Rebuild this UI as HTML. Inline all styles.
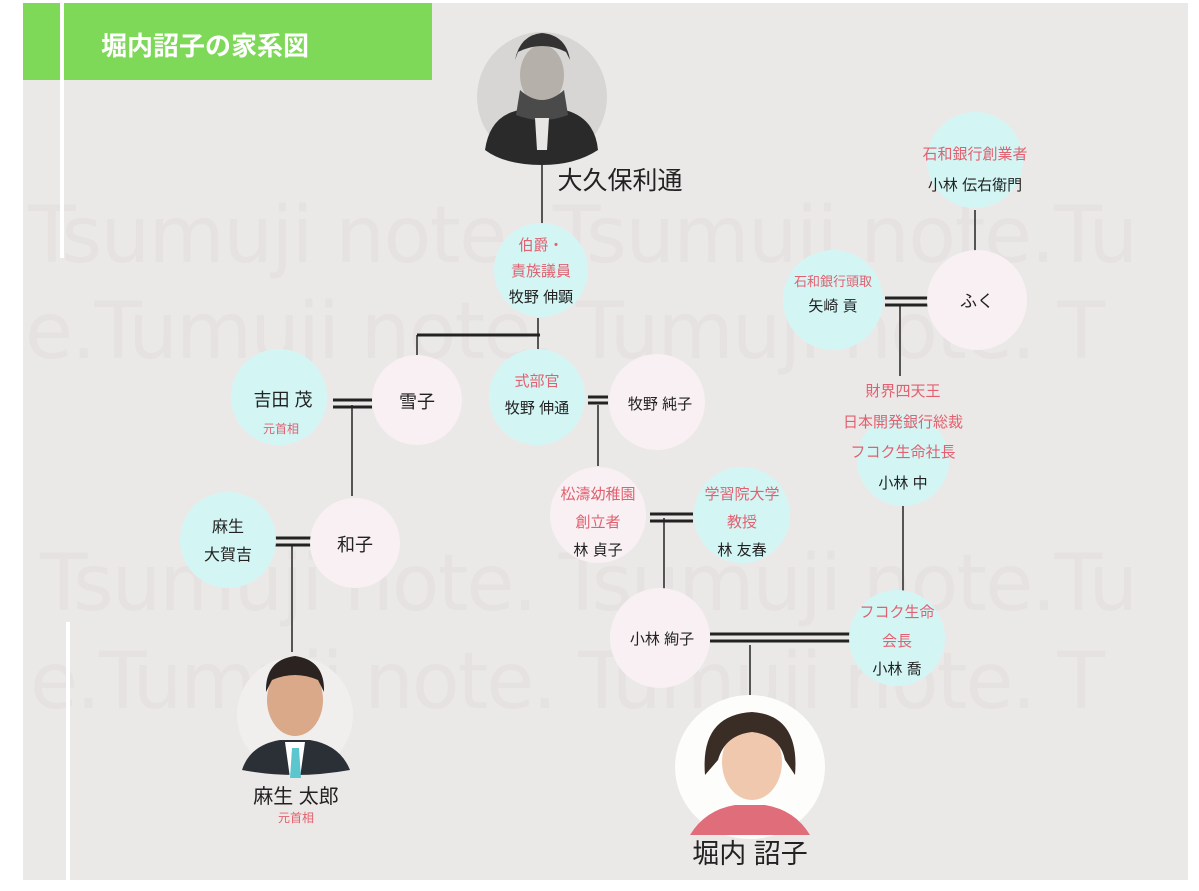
<!DOCTYPE html>
<html><head><meta charset="utf-8"><style>
html,body{margin:0;padding:0;background:#fff;}
svg{display:block;font-family:"Liberation Sans","Noto Sans CJK JP",sans-serif;}
</style></head><body>
<svg width="1199" height="891" viewBox="0 0 1199 891" xmlns="http://www.w3.org/2000/svg">
<rect x="0" y="0" width="1199" height="891" fill="#fff"/>
<rect x="23" y="3" width="1165" height="877" fill="#ebe9e7"/>
<!-- watermark -->
<g fill="#e5e2e1" font-size="78" font-family="'DejaVu Sans',sans-serif">
<text x="28" y="262" textLength="1110">Tsumuji note. Tsumuji note.Tu</text>
<text x="25" y="358" textLength="1080">e.Tumuji note. Tumuji note. T</text>
<text x="40" y="610" textLength="1098">Tsumuji note. Tsumuji note.Tu</text>
<text x="30" y="708" textLength="1075">e.Tumuji note. Tumuji note. T</text>
</g>
<!-- header -->
<rect x="23" y="3" width="409" height="77" fill="#7dd957"/>
<rect x="60" y="3" width="4" height="255" fill="#fff"/>
<rect x="66" y="622" width="4" height="258" fill="#fff"/>
<text x="101" y="55" font-size="26" font-weight="bold" fill="#fff">堀内詔子の家系図</text>

<!-- lines -->
<g stroke="#555" stroke-width="2" fill="none">
<line x1="542" y1="165" x2="542" y2="225"/>
<line x1="538" y1="318" x2="538" y2="352"/>
<line x1="417" y1="335" x2="417" y2="356"/>
<line x1="352" y1="405" x2="352" y2="496"/>
<line x1="598" y1="405" x2="598" y2="466"/>
<line x1="664" y1="518" x2="664" y2="590"/>
<line x1="750" y1="645" x2="750" y2="696"/>
<line x1="975" y1="210" x2="975" y2="252"/>
<line x1="900" y1="305" x2="900" y2="376"/>
<line x1="903" y1="498" x2="903" y2="592"/>
<line x1="292" y1="545" x2="292" y2="652"/>
</g>
<g stroke="#222" fill="none">
<line x1="417" y1="335" x2="540" y2="335" stroke-width="3"/>
<g stroke-width="3">
<line x1="333" y1="400" x2="372" y2="400"/><line x1="333" y1="407" x2="372" y2="407"/>
<line x1="588" y1="397" x2="608" y2="397"/><line x1="588" y1="403" x2="608" y2="403"/>
<line x1="650" y1="514" x2="693" y2="514"/><line x1="650" y1="521" x2="693" y2="521"/>
<line x1="710" y1="634" x2="852" y2="634"/><line x1="710" y1="641" x2="852" y2="641"/>
<line x1="885" y1="298" x2="930" y2="298"/><line x1="885" y1="305" x2="930" y2="305"/>
<line x1="273" y1="538" x2="312" y2="538"/><line x1="273" y1="545" x2="312" y2="545"/>
</g>
</g>

<!-- circles -->
<g fill="#d3f6f5">
<circle cx="541" cy="270" r="47"/>
<circle cx="279" cy="397" r="48"/>
<circle cx="537" cy="397" r="48"/>
<circle cx="742" cy="515" r="48"/>
<circle cx="897" cy="638" r="48"/>
<circle cx="975" cy="160" r="48"/>
<circle cx="833" cy="300" r="50"/>
<circle cx="903" cy="460" r="46"/>
<circle cx="228" cy="540" r="48"/>
</g>
<g fill="#f8f0f3">
<circle cx="417" cy="400" r="45"/>
<circle cx="657" cy="402" r="48"/>
<circle cx="598" cy="515" r="48"/>
<circle cx="660" cy="638" r="50"/>
<circle cx="977" cy="300" r="50"/>
<circle cx="355" cy="543" r="45"/>
</g>

<!-- Okubo photo -->
<circle cx="542" cy="97" r="65" fill="#d8d6d4"/>
<path d="M485 150 Q490 115 520 110 L565 110 Q595 118 598 150 Q575 165 542 165 Q505 165 485 150Z" fill="#2a2a2a"/>
<ellipse cx="542" cy="75" rx="22" ry="30" fill="#b5b0aa"/>
<path d="M515 60 Q520 35 542 33 Q566 35 570 60 L566 52 Q542 40 518 52Z" fill="#333"/>
<path d="M520 90 Q542 110 564 90 L568 115 Q542 125 516 115Z" fill="#4a4a4a"/>
<path d="M535 118 L549 118 L547 150 L537 150Z" fill="#e8e6e4"/>

<!-- Aso photo -->
<circle cx="295" cy="715" r="58" fill="#f1efee"/>
<path d="M242 770 Q250 745 280 740 L310 740 Q340 745 350 770 Q322 775 295 775 Q268 775 242 770Z" fill="#2b2f36"/>
<path d="M285 742 L305 742 L300 778 L290 778Z" fill="#fff"/>
<path d="M292 748 L299 748 L301 778 L290 778Z" fill="#5cc6cf"/>
<ellipse cx="295" cy="700" rx="28" ry="36" fill="#d9a98a"/>
<path d="M266 692 Q265 660 295 656 Q325 660 324 692 L318 680 Q295 670 272 680Z" fill="#2a2320"/>

<!-- Horiuchi photo -->
<ellipse cx="750" cy="767" rx="75" ry="72" fill="#fdfdfc"/>
<path d="M690 835 Q705 810 735 805 L765 805 Q795 810 810 835Z" fill="#e06d7a"/>
<ellipse cx="752" cy="762" rx="30" ry="38" fill="#f0c8ae"/>
<path d="M705 775 Q700 715 752 712 Q800 715 795 775 L785 760 Q780 735 752 732 Q725 735 718 760Z" fill="#3a2d25"/>

<!-- labels -->
<g fill="#222" text-anchor="middle" font-size="15">
<text x="620" y="189" font-size="25" text-anchor="middle">大久保利通</text>
<text x="541" y="302">牧野 伸顕</text>
<text x="283" y="406" font-size="18">吉田 茂</text>
<text x="417" y="408" font-size="18">雪子</text>
<text x="537" y="413">牧野 伸通</text>
<text x="660" y="409">牧野 純子</text>
<text x="598" y="555">林 貞子</text>
<text x="742" y="555">林 友春</text>
<text x="662" y="644">小林 絢子</text>
<text x="897" y="674">小林 喬</text>
<text x="975" y="190">小林 伝右衛門</text>
<text x="833" y="311">矢崎 貢</text>
<text x="977" y="307" font-size="17">ふく</text>
<text x="903" y="488">小林 中</text>
<text x="228" y="532" font-size="16">麻生</text>
<text x="228" y="560" font-size="16">大賀吉</text>
<text x="355" y="551" font-size="18">和子</text>
<text x="296" y="803" font-size="20">麻生 太郎</text>
<text x="750" y="863" font-size="27">堀内 詔子</text>
</g>
<g fill="#e2606f" text-anchor="middle" font-size="15">
<text x="541" y="250">伯爵・</text>
<text x="541" y="276">責族議員</text>
<text x="281" y="433" font-size="12">元首相</text>
<text x="537" y="386">式部官</text>
<text x="598" y="499">松濤幼稚園</text>
<text x="598" y="527">創立者</text>
<text x="742" y="499">学習院大学</text>
<text x="742" y="527">教授</text>
<text x="897" y="617">フコク生命</text>
<text x="897" y="646">会長</text>
<text x="975" y="159">石和銀行創業者</text>
<text x="833" y="286" font-size="13">石和銀行頭取</text>
<text x="903" y="396">財界四天王</text>
<text x="903" y="427">日本開発銀行総裁</text>
<text x="903" y="457">フコク生命社長</text>
<text x="296" y="822" font-size="12">元首相</text>
</g>
</svg>
</body></html>
